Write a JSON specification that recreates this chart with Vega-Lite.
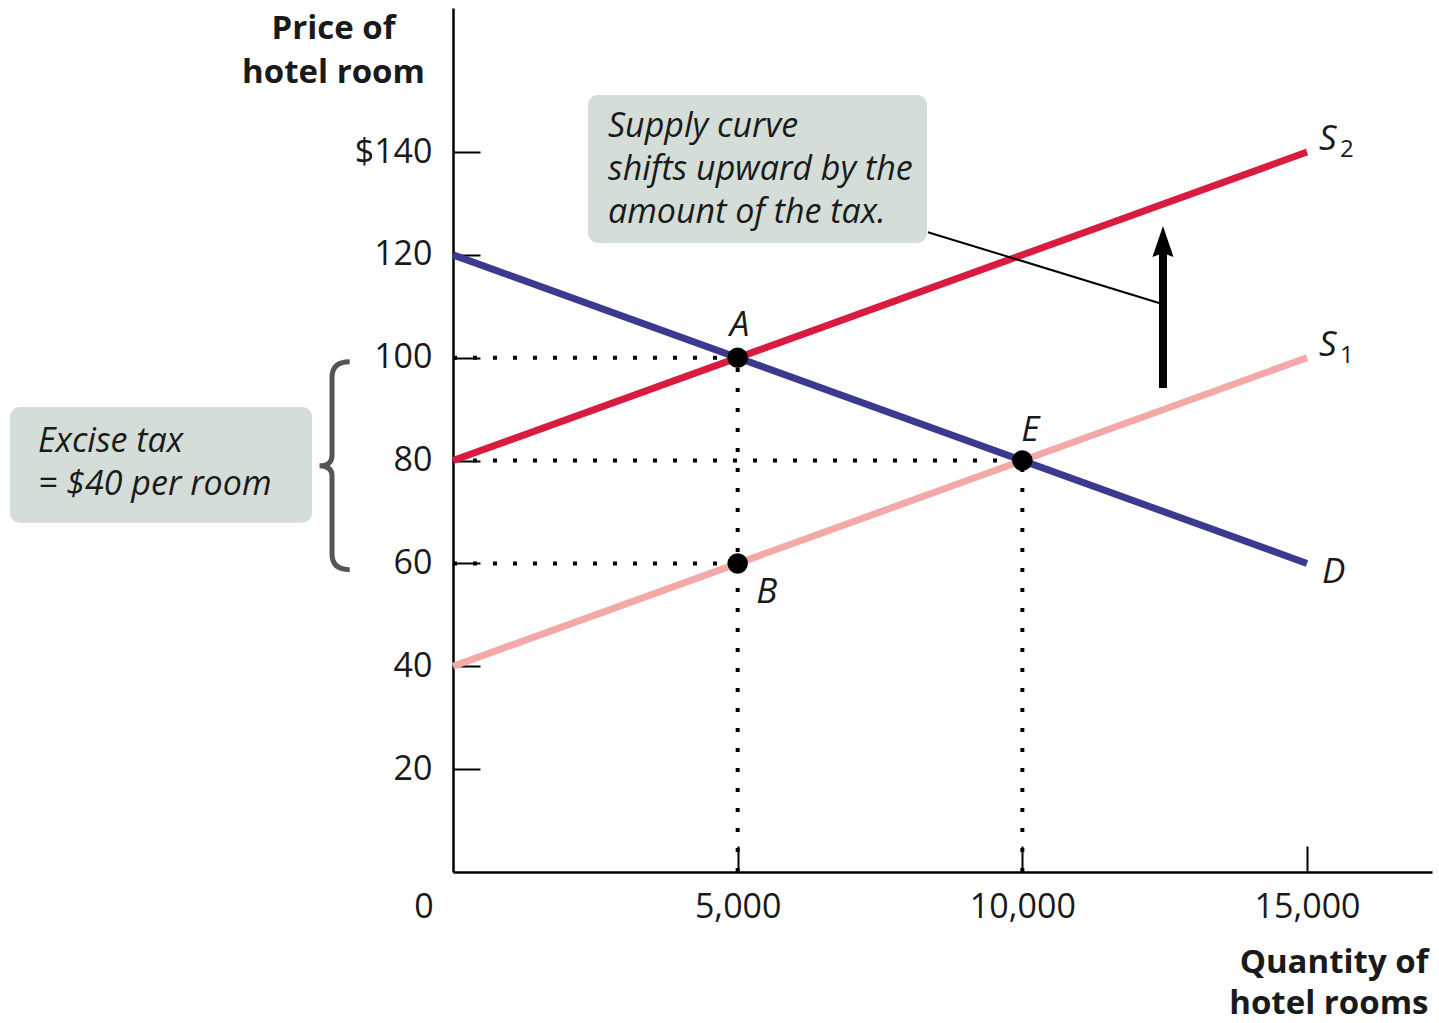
{
  "$schema": "https://vega.github.io/schema/vega-lite/v6.json",
  "width": 979,
  "height": 864,
  "autosize": {"type": "none"},
  "padding": {"left": 453, "top": 8, "right": 7, "bottom": 151},
  "background": "white",
  "config": {"view": {"stroke": null}, "font": "Open Sans"},
  "encoding": {
    "x": {
      "field": "x", "type": "quantitative",
      "scale": {"domain": [0, 17195], "nice": false, "zero": false},
      "axis": {
        "values": [5000, 10000, 15000], "labelExpr": "format(datum.value, ',')", "grid": false,
        "domainColor": "black", "domainWidth": 2.5,
        "tickColor": "black", "tickWidth": 2, "tickSize": -26,
        "labelFont": "Open Sans", "labelFontSize": 34, "labelColor": "#1a1a1a", "labelPadding": 44,
        "title": ["Quantity of", "hotel rooms"], "titleFont": "Open Sans", "titleFontSize": 33, "titleFontWeight": "bold",
        "titleColor": "#1a1a1a", "titleAlign": "right", "titleAnchor": null, "titleBaseline": "alphabetic",
        "titleX": 975, "titleY": 100, "titleLineHeight": 41
      }
    },
    "y": {
      "field": "y", "type": "quantitative",
      "scale": {"domain": [0, 168], "nice": false, "zero": false},
      "axis": {
        "values": [20, 40, 60, 80, 100, 120, 140],
        "labelExpr": "datum.value == 140 ? '$140' : datum.label",
        "grid": false,
        "domainColor": "black", "domainWidth": 2.5,
        "tickColor": "black", "tickWidth": 2, "tickSize": -27,
        "labelFont": "Open Sans", "labelFontSize": 34, "labelColor": "#1a1a1a", "labelPadding": 48,
        "title": ["Price of", "hotel room"], "titleFont": "Open Sans", "titleFontSize": 33, "titleFontWeight": "bold",
        "titleColor": "#1a1a1a", "titleAngle": 0, "titleAlign": "center", "titleAnchor": null, "titleBaseline": "alphabetic",
        "titleX": -120, "titleY": 30, "titleLineHeight": 44
      }
    }
  },
  "layer": [
    {
      "data": {"values": [
        {"box": "shift", "x": 2371, "y": 151.1, "x2": 8324, "y2": 122.3},
        {"box": "tax", "x": -7780, "y": 90.4, "x2": -2477, "y2": 67.9}
      ]},
      "mark": {"type": "rect", "color": "#d4ddd7", "cornerRadius": 10},
      "encoding": {"x2": {"field": "x2"}, "y2": {"field": "y2"}}
    },
    {
      "data": {"values": [
        {"text": "Supply curve\nshifts upward by the\namount of the tax.", "x": 2722, "y": 142.9},
        {"text": "Excise tax\n= $40 per room", "x": -7288, "y": 81.7}
      ]},
      "mark": {"type": "text", "align": "left", "baseline": "alphabetic", "lineBreak": "\n", "lineHeight": 43,
               "font": "Open Sans", "fontStyle": "italic", "fontSize": 34, "color": "#1a1a1a"},
      "encoding": {"text": {"field": "text"}}
    },
    {
      "data": {"values": [
        {"x": 0, "y": 100, "x2": 5000, "y2": 100},
        {"x": 0, "y": 80, "x2": 10000, "y2": 80},
        {"x": 0, "y": 60, "x2": 5000, "y2": 60},
        {"x": 5000, "y": 0, "x2": 5000, "y2": 100},
        {"x": 10000, "y": 0, "x2": 10000, "y2": 80}
      ]},
      "mark": {"type": "rule", "color": "black", "strokeWidth": 4, "strokeDash": [4, 16]},
      "encoding": {"x2": {"field": "x2"}, "y2": {"field": "y2"}}
    },
    {
      "data": {"values": [
        {"curve": "S1", "x": 0, "y": 40}, {"curve": "S1", "x": 15000, "y": 100},
        {"curve": "D", "x": 0, "y": 120}, {"curve": "D", "x": 15000, "y": 60},
        {"curve": "S2", "x": 0, "y": 80}, {"curve": "S2", "x": 15000, "y": 140}
      ]},
      "mark": {"type": "line", "strokeWidth": 7, "strokeCap": "butt"},
      "encoding": {
        "color": {"field": "curve", "type": "nominal", "legend": null,
                  "scale": {"domain": ["D", "S1", "S2"], "range": ["#3b3a8e", "#f4a9a9", "#d81b3e"]}},
        "detail": {"field": "curve"}
      }
    },
    {
      "data": {"values": [{"x": 8342, "y": 124.4, "x2": 12416, "y2": 110.6}]},
      "mark": {"type": "rule", "color": "black", "strokeWidth": 2},
      "encoding": {"x2": {"field": "x2"}, "y2": {"field": "y2"}}
    },
    {
      "data": {"values": [{"x": 12470, "y": 94.1, "y2": 121}]},
      "mark": {"type": "rule", "color": "black", "strokeWidth": 8},
      "encoding": {"y2": {"field": "y2"}}
    },
    {
      "data": {"values": [{"x": 12470, "y": 122.6}]},
      "mark": {"type": "point", "shape": "M0,-1L0.68,1L0,0.75L-0.68,1Z", "size": 961, "filled": true, "color": "black", "opacity": 1}
    },
    {
      "data": {"values": [{"x": -2125, "y": 79}]},
      "mark": {"type": "point", "shape": "M0.17,-1Q0,-1 0,-0.85L0,-0.1Q0,0 -0.12,0Q0,0 0,0.1L0,0.85Q0,1 0.17,1",
               "size": 43264, "filled": false, "fill": null, "stroke": "#555555", "strokeWidth": 5, "opacity": 1}
    },
    {
      "data": {"values": [
        {"label": "A", "x": 5000, "y": 100},
        {"label": "B", "x": 5000, "y": 60},
        {"label": "E", "x": 10000, "y": 80}
      ]},
      "mark": {"type": "circle", "size": 420, "color": "black", "opacity": 1}
    },
    {
      "data": {"values": [{"label": "A", "x": 5000, "y": 100}]},
      "mark": {"type": "text", "align": "center", "baseline": "alphabetic", "dx": 2, "dy": -22,
               "fontStyle": "italic", "fontSize": 35, "color": "#1a1a1a"},
      "encoding": {"text": {"field": "label"}}
    },
    {
      "data": {"values": [{"label": "E", "x": 10000, "y": 80}]},
      "mark": {"type": "text", "align": "center", "baseline": "alphabetic", "dx": 8, "dy": -20,
               "fontStyle": "italic", "fontSize": 35, "color": "#1a1a1a"},
      "encoding": {"text": {"field": "label"}}
    },
    {
      "data": {"values": [{"label": "B", "x": 5000, "y": 60}]},
      "mark": {"type": "text", "align": "center", "baseline": "alphabetic", "dx": 29, "dy": 40,
               "fontStyle": "italic", "fontSize": 35, "color": "#1a1a1a"},
      "encoding": {"text": {"field": "label"}}
    },
    {
      "data": {"values": [{"label": "S", "x": 15000, "y": 140}, {"label": "S", "x": 15000, "y": 100}]},
      "mark": {"type": "text", "align": "left", "baseline": "alphabetic", "dx": 12, "dy": -2,
               "fontStyle": "italic", "fontSize": 35, "color": "#1a1a1a"},
      "encoding": {"text": {"field": "label"}}
    },
    {
      "data": {"values": [{"label": "2", "x": 15000, "y": 140}, {"label": "1", "x": 15000, "y": 100}]},
      "mark": {"type": "text", "align": "left", "baseline": "alphabetic", "dx": 33, "dy": 5,
               "fontSize": 24, "color": "#1a1a1a"},
      "encoding": {"text": {"field": "label"}}
    },
    {
      "data": {"values": [{"label": "D", "x": 15000, "y": 60}]},
      "mark": {"type": "text", "align": "left", "baseline": "alphabetic", "dx": 15, "dy": 20,
               "fontStyle": "italic", "fontSize": 35, "color": "#1a1a1a"},
      "encoding": {"text": {"field": "label"}}
    },
    {
      "data": {"values": [{"label": "0", "x": 0, "y": 0}]},
      "mark": {"type": "text", "align": "center", "baseline": "alphabetic", "dx": -29, "dy": 46,
               "fontSize": 34, "color": "#1a1a1a"},
      "encoding": {"text": {"field": "label"}}
    }
  ]
}
